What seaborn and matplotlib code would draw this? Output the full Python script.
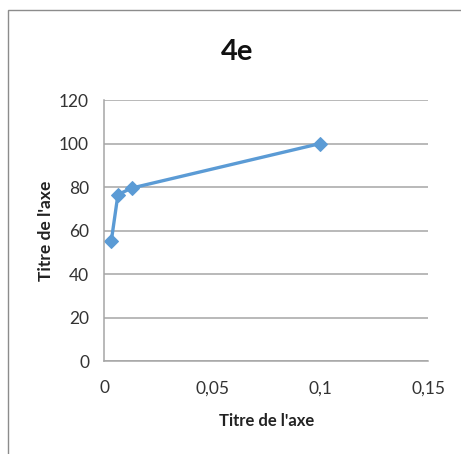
import matplotlib
matplotlib.use("Agg")
import matplotlib.pyplot as plt
import seaborn as sns
import pandas as pd
from matplotlib.patches import Rectangle

# Data series
x_vals = [0.0032, 0.0063, 0.0126, 0.1]
y_vals = [55, 76.5, 79.5, 100]
x_ticks = [0, 0.05, 0.1, 0.15]
x_tick_labels = ["0", "0,05", "0,1", "0,15"]
y_ticks = [0, 20, 40, 60, 80, 100, 120]

title = "4e"
x_title = "Titre de l'axe"
y_title = "Titre de l'axe"

df = pd.DataFrame({"x": x_vals, "y": y_vals})

sns.set_theme(style="white")
plt.rcParams["font.family"] = ["Lato", "DejaVu Sans"]

fig = plt.figure(figsize=(4.61, 4.54), dpi=100)
ax = fig.add_axes([0.2263, 0.2048, 0.929 - 0.2263, 0.7797 - 0.2048])

blue = "#5B9BD5"
sns.lineplot(data=df, x="x", y="y", sort=False, ax=ax, color=blue,
             linewidth=2.4, marker="D", markersize=7.5,
             markeredgecolor=blue, markerfacecolor=blue)

ax.set_xlim(0, 0.15)
ax.set_ylim(0, 120)
ax.set_xticks(x_ticks)
ax.set_xticklabels(x_tick_labels)
ax.set_yticks(y_ticks)
ax.tick_params(axis="both", length=0, labelsize=12.5, colors="#333333")
ax.tick_params(axis="x", pad=14)
ax.tick_params(axis="y", pad=11)

ax.grid(axis="y", color="#A6A6A6", linewidth=1.1)
ax.grid(axis="x", visible=False)
ax.set_axisbelow(True)
for side in ["top", "right"]:
    ax.spines[side].set_visible(False)
for side in ["left", "bottom"]:
    ax.spines[side].set_color("#A6A6A6")
    ax.spines[side].set_linewidth(1.1)

ax.set_xlabel(x_title, fontsize=12, fontweight="bold", color="#222222", labelpad=12)
ax.set_ylabel(y_title, fontsize=12.5, fontweight="bold", color="#222222", labelpad=3.5)

fig.text(0.514, 0.885, title, ha="center", va="center",
         fontsize=21, fontweight="bold", color="#111111")

# Chart area border
fig.patches.append(Rectangle((8 / 461, -0.05), 1.2, 1 - 10 / 454 + 0.05,
                             transform=fig.transFigure, fill=False,
                             edgecolor="#8C8C8C", linewidth=1.0))

fig.savefig("out.png", dpi=100)
